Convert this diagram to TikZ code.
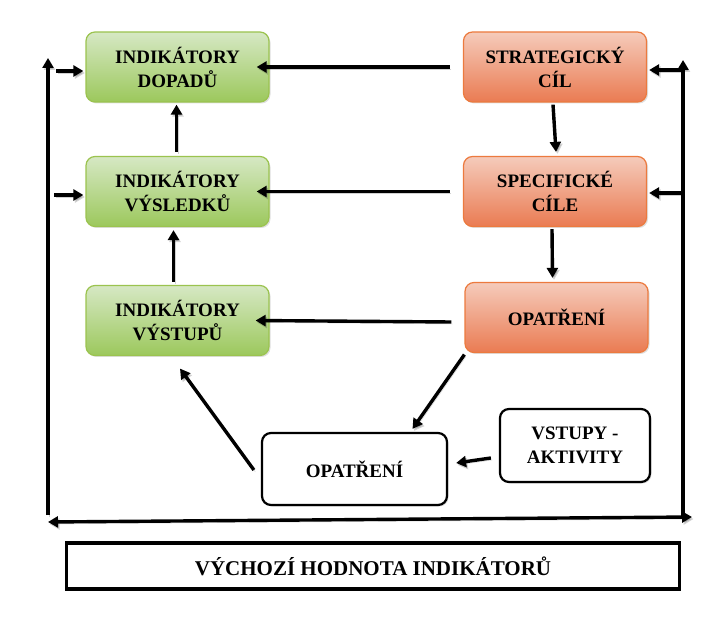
\documentclass[tikz,border=0pt]{standalone}
\usepackage{fontspec}
\setmainfont{Liberation Serif}
\usetikzlibrary{arrows.meta,shadows}
\definecolor{gtop}{HTML}{D6E8C4}
\definecolor{gbot}{HTML}{9CC85C}
\definecolor{gbord}{HTML}{9BC34F}
\definecolor{otop}{HTML}{F5CBBB}
\definecolor{obot}{HTML}{EA7B52}
\definecolor{obord}{HTML}{EC7A3E}
\tikzset{
  box/.style={rounded corners=9pt, minimum width=183pt, minimum height=70pt, align=center,
    font=\fontsize{19}{24}\selectfont\bfseries, line width=1.2pt, inner sep=0pt,
    drop shadow={shadow xshift=1.5pt, shadow yshift=-1.5pt, opacity=0.25}},
  gbox/.style={box, draw=gbord, top color=gtop, bottom color=gbot},
  obox/.style={box, draw=obord, top color=otop, bottom color=obot},
  wbox/.style={box, draw=black, fill=white, line width=2.2pt},
  arr/.style={line width=3.4pt, -{Triangle[length=10pt,width=11pt]},
    preaction={draw=black, opacity=0.18, transform canvas={shift={(1.5pt,-2pt)}}}},
  darr/.style={line width=3.4pt, {Triangle[length=10pt,width=11pt]}-{Triangle[length=10pt,width=11pt]},
    preaction={draw=black, opacity=0.18, transform canvas={shift={(1.5pt,-2pt)}}}},
}
\begin{document}
\begin{tikzpicture}[x=1pt,y=-1pt]
\useasboundingbox (0,0) rectangle (723,617);
\node[gbox] (dop) at (177.5,67) {INDIKÁTORY\\DOPADŮ};
\node[gbox] (vys) at (177.5,191.5) {INDIKÁTORY\\VÝSLEDKŮ};
\node[gbox] (vyst) at (177.5,320.5) {INDIKÁTORY\\VÝSTUPŮ};
\node[obox] (str) at (555,67) {STRATEGICKÝ\\CÍL};
\node[obox] (spec) at (555,191.5) {SPECIFICKÉ\\CÍLE};
\node[obox] (opo) at (556.5,317.5) {OPATŘENÍ};
\node[wbox, minimum width=185pt, minimum height=72pt] (opw) at (354.5,469) {OPATŘENÍ};
\node[wbox, minimum width=150pt, minimum height=73pt] (vst) at (575,445.5) {VSTUPY -\\AKTIVITY};
\node[draw, line width=3.2pt, minimum width=613pt, minimum height=46pt, inner sep=0pt,
  font=\fontsize{21}{24}\selectfont\bfseries] (base) at (373,566) {VÝCHOZÍ HODNOTA INDIKÁTORŮ};

% horizontal arrows right to left
\draw[arr] ([xshift=-13pt]str.west) -- ([xshift=-13pt]dop.east);
\draw[arr] ([xshift=-13pt]spec.west) -- ([xshift=-13pt]vys.east);
\draw[arr] ([xshift=-13pt,yshift=-4.5pt]opo.west) -- ([xshift=-14pt]vyst.east);
% vertical on right column
\draw[arr] ([xshift=-2pt,yshift=-2pt]str.south) -- ([xshift=1pt,yshift=4pt]spec.north);
\draw[arr] ([xshift=-3pt,yshift=-2pt]spec.south) -- ([xshift=-4pt,yshift=4pt]opo.north);
% vertical on left column
\draw[arr] ([xshift=-1pt,yshift=4pt]vys.north) -- ([xshift=-1pt,yshift=-2pt]dop.south);
\draw[arr] ([xshift=-4pt,yshift=3pt]vyst.north) -- ([xshift=-4pt,yshift=-3pt]vys.south);
% diagonal
\draw[arr] ([yshift=-1.5pt]opo.south west) -- ([xshift=58pt,yshift=3pt]opw.north);
\draw[arr] ([xshift=-7pt,yshift=-1pt]opw.west) -- ([xshift=2.5pt,yshift=-12.5pt]vyst.south);
\draw[arr] ([xshift=-8pt,yshift=-12.5pt]vst.west) -- ([xshift=8pt,yshift=6pt]opw.east);
% side frames
\coordinate (lb) at (48,515);
\coordinate (lt) at (48,58);
\coordinate (rb) at (683,518);
\coordinate (rt) at (683,60);
\draw[arr] (lb) -- (lt);
\draw[arr] (rb) -- (rt);
\coordinate (l1) at (56,71);
\coordinate (l2) at (54,195);
\coordinate (r1) at (681,70);
\coordinate (r2) at (681,193);
\draw[arr] (l1) -- ([xshift=-2pt,yshift=-4pt]dop.west);
\draw[arr] (l2) -- ([xshift=-2pt,yshift=-3.5pt]vys.west);
\draw[arr] (r1) -- ([xshift=2pt,yshift=-3pt]str.east);
\draw[arr] (r2) -- ([xshift=2pt,yshift=-1.5pt]spec.east);
\coordinate (bl) at (48,522);
\coordinate (br) at (692,517);
\draw[darr] (bl) -- (br);
\end{tikzpicture}
\end{document}
